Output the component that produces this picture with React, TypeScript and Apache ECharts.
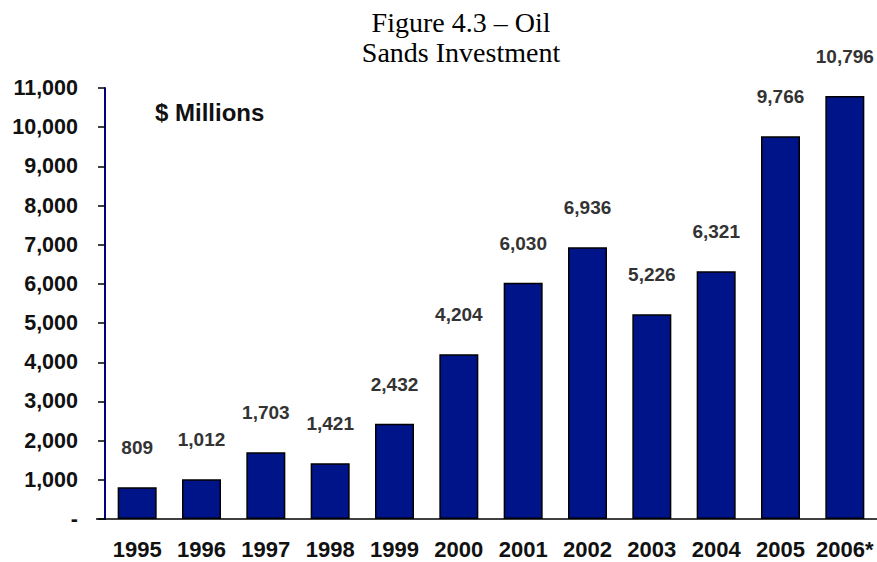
import React, { useEffect, useRef } from "react";
import * as echarts from "echarts";

const categories = ["1995", "1996", "1997", "1998", "1999", "2000", "2001", "2002", "2003", "2004", "2005", "2006*"];
const investment = [809, 1012, 1703, 1421, 2432, 4204, 6030, 6936, 5226, 6321, 9766, 10796];
const titleLines = ["Figure 4.3 – Oil", "Sands Investment"];
const unitLabel = "$ Millions";

const SANS = "'Liberation Sans', Arial, Helvetica, sans-serif";
const SERIF = "'Liberation Serif', 'Times New Roman', serif";

const fmt = (v: number) => (v === 0 ? "-" : v.toLocaleString("en-US"));

export default function App() {
  const ref = useRef<HTMLDivElement>(null);
  useEffect(() => {
    if (!ref.current) return;
    const chart = echarts.init(ref.current, null, { renderer: "svg" });
    chart.setOption({
      animation: false,
      backgroundColor: "#ffffff",
      grid: { left: 105, top: 88, width: 774, height: 431, containLabel: false },
      graphic: [
        {
          type: "text",
          x: 461,
          y: 7,
          style: {
            text: titleLines.join("\n"),
            font: `28px ${SERIF}`,
            fill: "#000",
            textAlign: "center",
            textVerticalAlign: "top",
            lineHeight: 30,
          },
        },
        {
          type: "text",
          x: 155,
          y: 112,
          style: {
            text: unitLabel,
            font: `bold 24px ${SANS}`,
            fill: "#111",
            textAlign: "left",
            textVerticalAlign: "middle",
          },
        },
        {
          type: "line",
          shape: { x1: 96, y1: 519, x2: 106, y2: 519 },
          style: { stroke: "#000", lineWidth: 1.5 },
        },
      ],
      xAxis: {
        type: "category",
        data: categories,
        axisLine: { show: true, lineStyle: { color: "#000", width: 1.5 } },
        axisTick: { show: false },
        axisLabel: {
          color: "#111",
          fontFamily: SANS,
          fontWeight: "bold",
          fontSize: 22,
          margin: 19,
          interval: 0,
        },
        splitLine: { show: false },
      },
      yAxis: {
        type: "value",
        min: 0,
        max: 11000,
        interval: 1000,
        axisLine: { show: true, lineStyle: { color: "#000080", width: 2 } },
        axisTick: { show: true, length: 7, lineStyle: { color: "#000", width: 1.5 } },
        axisLabel: {
          color: "#111",
          fontFamily: SANS,
          fontWeight: "bold",
          fontSize: 21.5,
          margin: 27,
          formatter: (v: number) => fmt(v),
        },
        splitLine: { show: false },
      },
      series: [
        {
          type: "bar",
          data: investment,
          barWidth: 39,
          itemStyle: { color: "#001489", borderColor: "#000", borderWidth: 1.5 },
          label: {
            show: true,
            position: "top",
            distance: 30,
            color: "#333",
            fontFamily: SANS,
            fontWeight: "bold",
            fontSize: 19,
            formatter: (p: any) => fmt(p.value),
          },
        },
      ],
    });
    return () => chart.dispose();
  }, []);
  return (
    <div
      ref={ref}
      style={{ position: "fixed", left: 0, top: 0, width: 877, height: 562, background: "#fff" }}
    />
  );
}
